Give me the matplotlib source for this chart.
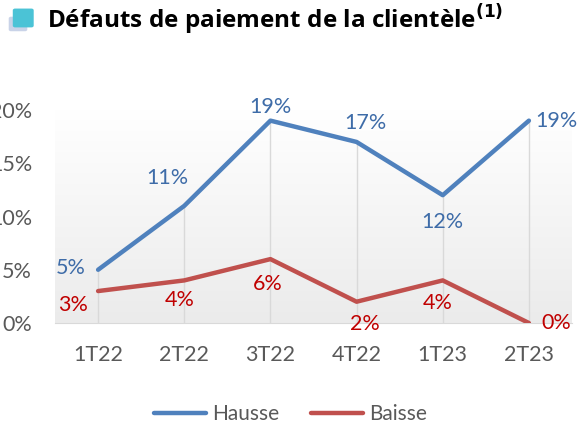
import numpy as np
import matplotlib.pyplot as plt
from matplotlib.patches import FancyBboxPatch
from matplotlib.colors import LinearSegmentedColormap
from matplotlib.ticker import PercentFormatter

categories = ["1T22", "2T22", "3T22", "4T22", "1T23", "2T23"]
hausse = [5, 11, 19, 17, 12, 19]
baisse = [3, 4, 6, 2, 4, 0]
y_ticks = [0, 5, 10, 15, 20]

# label offsets (points) per point
hausse_off = [(-20, 1.5), (-12, 20), (0, 10), (6, 14), (0, -19.5), (20, 0)]
baisse_off = [(-18, -10), (-3, -14), (-2, -18), (6, -16), (-4, -16), (20, 0)]

blue, red = "#4F81BD", "#C0504D"
blue_lab, red_lab = "#3E6CA8", "#C00000"
grey_txt = "#595959"
plt.rcParams['font.family'] = ['Lato', 'DejaVu Sans']

fig = plt.figure(figsize=(5.81, 4.28), dpi=100)
ax = fig.add_axes([0.0947, 0.2453, 0.8898, 0.4977])
x = np.arange(len(categories))

# gradient background
grad = np.linspace(0, 1, 256).reshape(-1, 1)
cmap = LinearSegmentedColormap.from_list("bg", ["#ebebeb", "#ffffff"])
ax.imshow(grad, extent=[-0.5, 5.5, 0, 20], origin="lower", aspect="auto",
          cmap=cmap, zorder=0)

# drop lines
ax.vlines(x, 0, np.maximum(hausse, baisse), color="#d9d9d9", lw=1, zorder=1)

ax.plot(x, hausse, color=blue, lw=3.2, label="Hausse", zorder=3, solid_capstyle="round")
ax.plot(x, baisse, color=red, lw=3.2, label="Baisse", zorder=3, solid_capstyle="round")

for i, v in enumerate(hausse):
    ax.annotate(f"{v}%", (x[i], v), xytext=hausse_off[i], textcoords="offset points",
                ha="center", va="center", color=blue_lab, fontsize=15.5)
for i, v in enumerate(baisse):
    ax.annotate(f"{v}%", (x[i], v), xytext=baisse_off[i], textcoords="offset points",
                ha="center", va="center", color=red_lab, fontsize=15.5)

ax.set_xlim(-0.5, 5.5)
ax.set_ylim(0, 20)
ax.set_xticks(x)
ax.set_xticklabels(categories)
ax.set_yticks(y_ticks)
ax.yaxis.set_major_formatter(PercentFormatter(decimals=0))
ax.tick_params(axis="both", length=0, labelsize=15.5, labelcolor=grey_txt)
ax.tick_params(axis="y", pad=16.5)
ax.tick_params(axis="x", pad=16)
for s in ["top", "right", "left"]:
    ax.spines[s].set_visible(False)
ax.spines["bottom"].set_color("#d9d9d9")

# title and icon
fig.patches.append(FancyBboxPatch((0.019, 0.931), 0.024, 0.026,
                                  boxstyle="round,pad=0.004", transform=fig.transFigure,
                                  facecolor="#c9d3e8", edgecolor="none"))
fig.patches.append(FancyBboxPatch((0.026, 0.940), 0.028, 0.036,
                                  boxstyle="round,pad=0.004", transform=fig.transFigure,
                                  facecolor="#4BC3D6", edgecolor="none"))
fig.text(0.081, 0.953, "Défauts de paiement de la clientèle$^{\\mathbf{(1)}}$",
         family="Open Sans", fontweight="bold", fontsize=17.5, va="center", ha="left")

fig.legend(loc="center", bbox_to_anchor=(0.5, 0.032), ncol=2, frameon=False,
           fontsize=15, handlelength=2.5, columnspacing=1.5, handletextpad=0.3,
           labelcolor=grey_txt)

fig.savefig("out.png", dpi=100)
